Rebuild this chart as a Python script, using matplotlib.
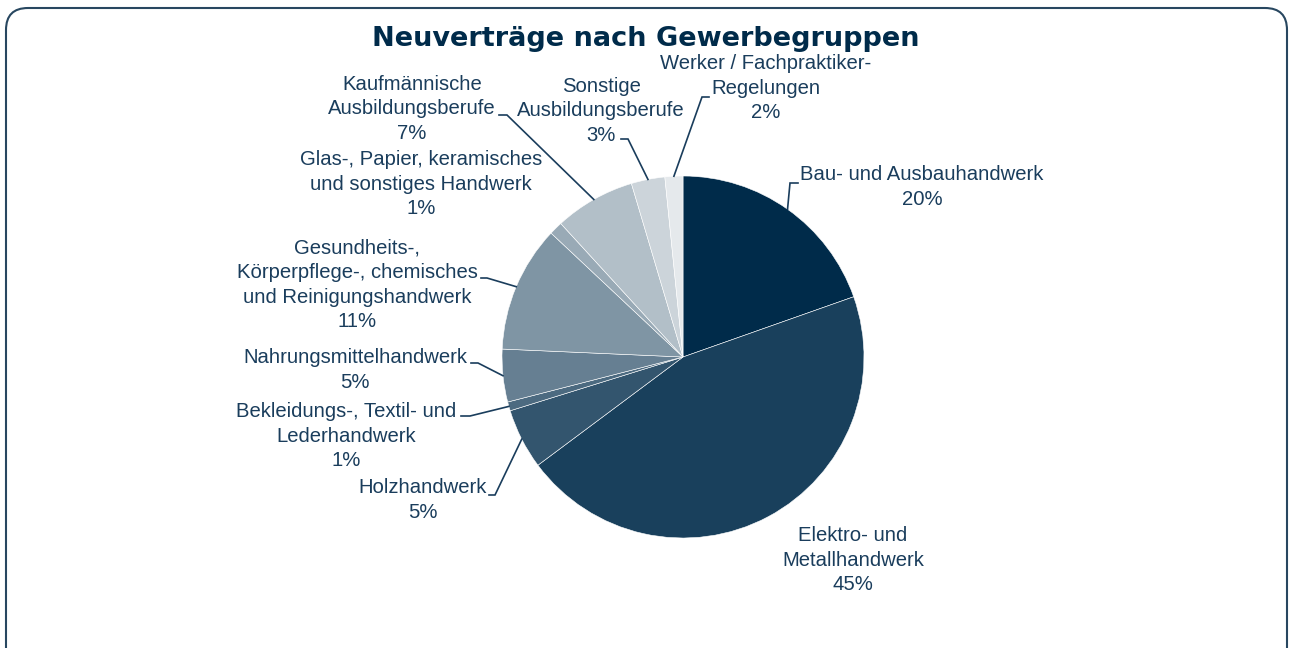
import matplotlib.pyplot as plt
import numpy as np
from matplotlib.patches import FancyBboxPatch

plt.rcParams['font.family'] = ['Liberation Sans', 'DejaVu Sans']

# shares in percent, clockwise from 12 o'clock
categories = ['Bau- und Ausbauhandwerk',
              'Elektro- und\nMetallhandwerk',
              'Holzhandwerk',
              'Bekleidungs-, Textil- und\nLederhandwerk',
              'Nahrungsmittelhandwerk',
              'Gesundheits-,\nKörperpflege-, chemisches\nund Reinigungshandwerk',
              'Glas-, Papier, keramisches\nund sonstiges Handwerk',
              'Kaufmännische\nAusbildungsberufe',
              'Sonstige\nAusbildungsberufe',
              'Werker / Fachpraktiker-\nRegelungen']
shares = [19.6, 45.2, 5.4, 0.8, 4.7, 11.3, 1.2, 7.2, 3.0, 1.6]

colors = ['#002b4a', '#19405c', '#33556e', '#4c6a80', '#667f92',
          '#7f95a4', '#99aab6', '#b2bfc8', '#ccd4da', '#e5e9ec']
text_color = '#1a3d5c'

W, H = 1290, 648
CX, CY, R = 683, 357, 181


def Y(y):
    return H - y


# label layout in pixel coords: text centre, leader polyline (after edge point)
layout = [
    ((922, 187), [(790, 183), (798, 183)]),
    ((853, 560), None),
    ((423, 500), [(495, 495), (489, 495)]),
    ((346, 436), [(470, 416), (461, 416)]),
    ((355, 370), [(478, 363), (471, 363)]),
    ((357, 285), [(487, 278), (481, 278)]),
    ((421, 184), None),
    ((412, 109), [(507, 115), (499, 115)]),
    ((601, 111), [(628, 139), (621, 139)]),
    ((766, 88), [(702, 97), (709, 97)]),
]

fig = plt.figure(figsize=(W / 100, H / 100), dpi=100)
ax = fig.add_axes([0, 0, 1, 1])

wedges, _ = ax.pie(shares, colors=colors, startangle=90, counterclock=False,
                   center=(CX, Y(CY)), radius=R, frame=True,
                   wedgeprops=dict(edgecolor='white', linewidth=0.4))

for w, name, val, (pos, leader) in zip(wedges, categories, shares, layout):
    ax.text(pos[0], Y(pos[1]), f'{name}\n{round(val)}%', ha='center', va='center',
            multialignment='center', fontsize=14.6, color=text_color, linespacing=1.36)
    if leader:
        mid = np.deg2rad((w.theta1 + w.theta2) / 2)
        pts = [(CX + R * np.cos(mid), Y(CY) + R * np.sin(mid))]
        pts += [(x, Y(y)) for x, y in leader]
        xs, ys = zip(*pts)
        ax.plot(xs, ys, color=text_color, lw=1.2, solid_joinstyle='miter')

ax.text(646, Y(39), 'Neuverträge nach Gewerbegruppen', ha='center', va='center',
        fontsize=19.5, fontweight='bold', color='#002b4a', family=['DejaVu Sans'])

box = FancyBboxPatch((6, -40), 1281, 680, boxstyle='round,pad=0,rounding_size=22',
                     fill=False, edgecolor='#284760', lw=1.5)
ax.add_patch(box)

ax.set_xlim(0, W)
ax.set_ylim(0, H)
ax.set_aspect('equal')
ax.axis('off')

plt.savefig('out.png', dpi=100)
